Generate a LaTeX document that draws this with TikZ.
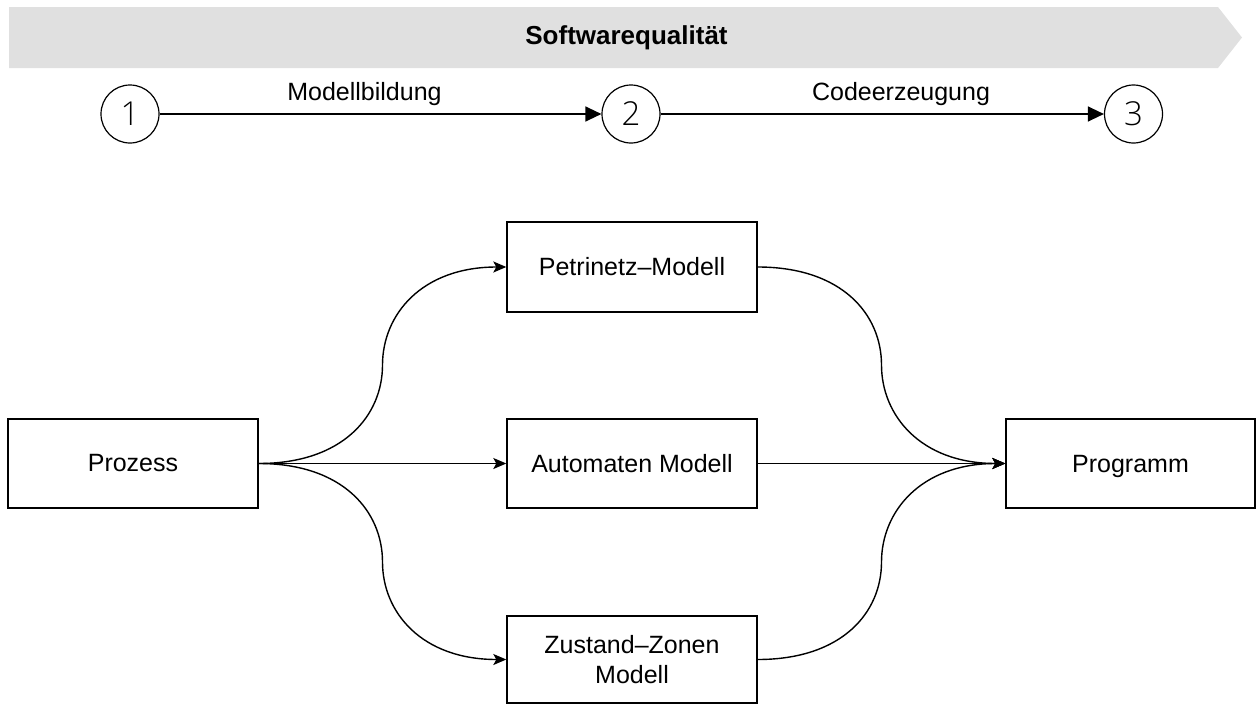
\documentclass[tikz,border=0pt]{standalone}
\usepackage{fontspec}
\setmainfont{Liberation Sans}
\newfontfamily\digitfont[UprightFont={* Light}]{Open Sans}
\usetikzlibrary{arrows.meta}
\begin{document}
\begin{tikzpicture}[x=1pt,y=-1pt,
  box/.style={draw, line width=1.4pt, fill=white, inner sep=0pt, align=center,
    font=\fontsize{25}{30}\selectfont},
  stepcircle/.style={draw, circle, line width=1.2pt, minimum size=58pt, inner sep=0pt,
    font=\digitfont\fontsize{33}{36}\selectfont},
  stepconn/.style={line width=1.3pt, -{Triangle[length=16pt,width=15pt]}},
  conn/.style={line width=1.4pt, -{Stealth[length=13pt,width=11pt,inset=3pt]}},
  lbl/.style={font=\fontsize{25}{30}\selectfont, text depth=0pt}]
\useasboundingbox (0,0) rectangle (1258,704);

% banner
\fill[gray!24] (9,7) -- (1218,7) -- (1242,37.5) -- (1218,68) -- (9,68) -- cycle;
\node[font=\bfseries\fontsize{26}{30}\selectfont] (title) at (626.5,38) {Softwarequalität};

% process steps
\node[stepcircle] (s1) at (130,114) {1};
\node[stepcircle] (s2) at (631,114) {2};
\node[stepcircle] (s3) at (1133.5,114) {3};
\draw[stepconn] (s1) -- (s2);
\draw[stepconn] (s2) -- (s3);
\node[lbl] (l1) at (364.5,91) {Modellbildung};
\node[lbl] (l2) at (901,91) {Codeerzeugung};

% boxes
\node[box, minimum width=250pt, minimum height=89pt] (proz) at (133,463.5) {Prozess};
\node[box, minimum width=250pt, minimum height=90pt] (petri) at (632,267) {Petrinetz–Modell};
\node[box, minimum width=250pt, minimum height=89pt] (auto) at (632,463.5) {Automaten Modell};
\node[box, minimum width=250pt, minimum height=87pt] (zust) at (632,659.5) {Zustand–Zonen\\Modell};
\node[box, minimum width=249pt, minimum height=89pt, text depth=0pt] (prog) at (1130.5,463.5) {Programm};

% turning points of the curved connectors
\coordinate (lu) at (382.5,365);
\coordinate (ld) at (382.5,562);
\coordinate (ru) at (881.5,365);
\coordinate (rd) at (881.5,562);

% connectors
\draw[conn] (proz.east) .. controls +(85,0) and +(0,50) .. (lu)
  .. controls +(0,-50) and +(-85,0) .. (petri.west);
\draw[conn] (proz.east) -- (auto.west);
\draw[conn] (proz.east) .. controls +(85,0) and +(0,-50) .. (ld)
  .. controls +(0,50) and +(-85,0) .. (zust.west);
\draw[conn] (petri.east) .. controls +(85,0) and +(0,-50) .. (ru)
  .. controls +(0,50) and +(-85,0) .. (prog.west);
\draw[conn] (auto.east) -- (prog.west);
\draw[conn] (zust.east) .. controls +(85,0) and +(0,50) .. (rd)
  .. controls +(0,-50) and +(-85,0) .. (prog.west);
\end{tikzpicture}
\end{document}
